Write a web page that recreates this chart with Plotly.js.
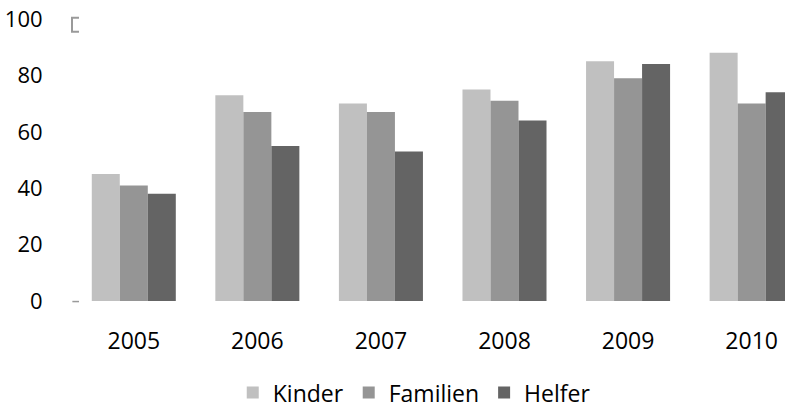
<!DOCTYPE html>
<html>
<head>
<meta charset="utf-8">
<script src="https://cdn.plot.ly/plotly-3.0.1.min.js"></script>
<style>html,body{margin:0;padding:0;overflow:hidden;background:#fff;}</style>
</head>
<body>
<div id="chart" style="width:785px;height:408px;"></div>
<script>
var years = ["2005", "2006", "2007", "2008", "2009", "2010"];
var seriesNames = ["Kinder", "Familien", "Helfer"];
var kinder = [45, 73, 70, 75, 85, 88];
var familien = [41, 67, 67, 71, 79, 70];
var helfer = [38, 55, 53, 64, 84, 74];
var yTicks = [0, 20, 40, 60, 80, 100];
var colors = ["#c0c0c0", "#959595", "#646464"];

var values = [kinder, familien, helfer];
var traces = values.map(function (v, i) {
  return {
    type: "bar",
    name: seriesNames[i],
    x: years,
    y: v,
    marker: { color: colors[i] },
    hoverinfo: "x+y+name"
  };
});

var font = { family: "Open Sans, sans-serif", size: 22, color: "#000" };
var xfont = { family: "Open Sans, sans-serif", size: 23, color: "#000" };
var legendFont = { family: "Open Sans, sans-serif", size: 23, color: "#000" };

var layout = {
  width: 785,
  height: 408,
  margin: { l: 72, r: 0, t: 19, b: 107, pad: 0, autoexpand: false },
  paper_bgcolor: "#fff",
  plot_bgcolor: "#fff",
  barmode: "group",
  bargap: 0.32,
  bargroupgap: 0,
  font: font,
  showlegend: true,
  legend: {
    orientation: "h",
    x: 0.48,
    xanchor: "center",
    y: -0.325,
    yanchor: "middle",
    font: legendFont,
    itemwidth: 30,
    traceorder: "normal"
  },
  xaxis: {
    type: "category",
    range: [-0.5, 5.27],
    showline: false,
    showgrid: false,
    zeroline: false,
    ticks: "outside",
    ticklen: 19,
    tickcolor: "rgba(0,0,0,0)",
    tickfont: xfont,
    fixedrange: true
  },
  yaxis: {
    range: [0, 100],
    tickvals: yTicks,
    ticktext: yTicks.map(String),
    showline: false,
    showgrid: false,
    zeroline: false,
    ticks: "outside",
    ticklen: 24,
    tickcolor: "rgba(0,0,0,0)",
    tickfont: font,
    fixedrange: true
  },
  shapes: [
    {
      type: "path", xref: "paper", yref: "paper",
      path: "M 0.0098 1.004 L 0 1.004 L 0 0.955 L 0.0098 0.955",
      line: { color: "#9a9a9a", width: 2 }
    },
    {
      type: "line", xref: "paper", yref: "paper",
      x0: 0.0005, x1: 0.0098, y0: -0.002, y1: -0.002,
      line: { color: "#9a9a9a", width: 1.5 }
    }
  ]
};

Plotly.newPlot("chart", traces, layout, { displayModeBar: false, staticPlot: true });
</script>
</body>
</html>
